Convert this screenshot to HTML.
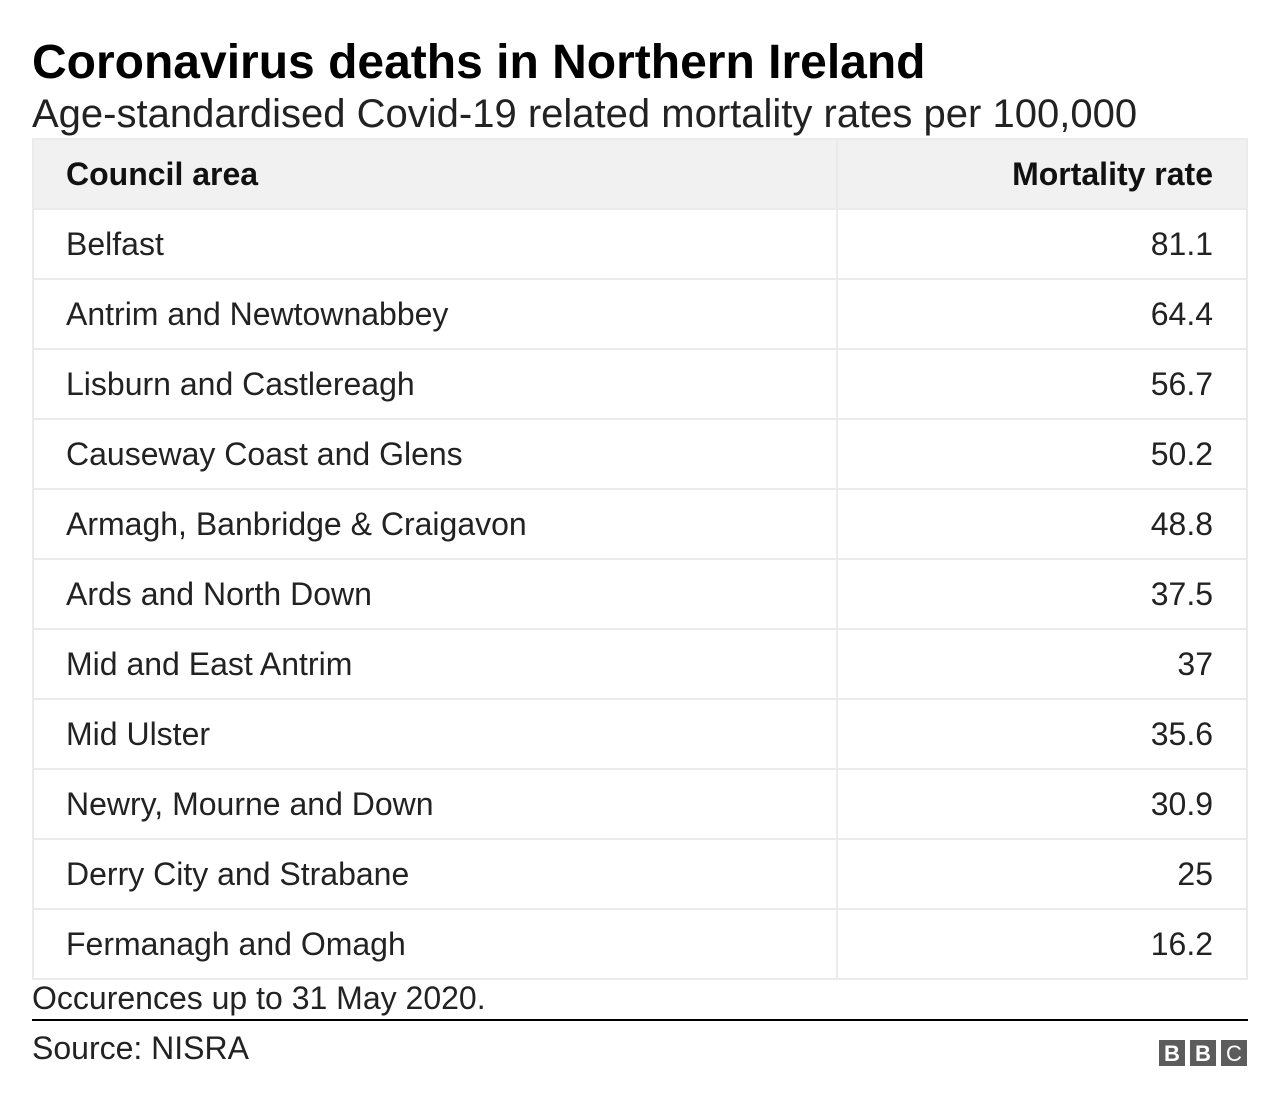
<!DOCTYPE html>
<html><head><meta charset="utf-8"><style>
body{margin:0;width:1280px;height:1108px;background:#fff;font-family:"Liberation Sans",Arial,sans-serif;color:#222;position:relative;overflow:hidden}
.t{position:absolute;left:32px;top:35px;font-size:48px;font-weight:bold;color:#000;white-space:nowrap}
.s{position:absolute;left:32px;top:94px;font-size:40px;color:#222;white-space:nowrap;line-height:1}
table{position:absolute;left:32px;top:138px;width:1216px;border-collapse:collapse}
td,th{border:2px solid #ebebeb;height:68px;padding:0 32px;font-size:32px;font-weight:normal;color:#222;text-align:left}
th{background:#f1f1f1;font-weight:bold;color:#111}
td.r,th.r{text-align:right;padding-right:33px}
.col1{width:738px}
.n{position:absolute;left:32px;top:980px;font-size:32px;color:#222;line-height:36px}
.line{position:absolute;left:32px;top:1019px;width:1216px;height:2px;background:#000}
.src{position:absolute;left:32px;top:1030px;font-size:32px;color:#222;line-height:36px}
.bbc{position:absolute;top:1040px;width:26px;height:26px;background:#5c5c5c;color:#fff;font-weight:bold;font-size:22px;text-align:center;line-height:27px}
</style></head><body>
<div class="t">Coronavirus deaths in Northern Ireland</div>
<div class="s">Age-standardised Covid-19 related mortality rates per 100,000</div>
<table>
<tr><th class="col1">Council area</th><th class="r">Mortality rate</th></tr>
<tr><td>Belfast</td><td class="r">81.1</td></tr>
<tr><td>Antrim and Newtownabbey</td><td class="r">64.4</td></tr>
<tr><td>Lisburn and Castlereagh</td><td class="r">56.7</td></tr>
<tr><td>Causeway Coast and Glens</td><td class="r">50.2</td></tr>
<tr><td>Armagh, Banbridge &amp; Craigavon</td><td class="r">48.8</td></tr>
<tr><td>Ards and North Down</td><td class="r">37.5</td></tr>
<tr><td>Mid and East Antrim</td><td class="r">37</td></tr>
<tr><td>Mid Ulster</td><td class="r">35.6</td></tr>
<tr><td>Newry, Mourne and Down</td><td class="r">30.9</td></tr>
<tr><td>Derry City and Strabane</td><td class="r">25</td></tr>
<tr><td>Fermanagh and Omagh</td><td class="r">16.2</td></tr>
</table>
<div class="n">Occurences up to 31 May 2020.</div>
<div class="line"></div>
<div class="src">Source: NISRA</div>
<div class="bbc" style="left:1159px">B</div>
<div class="bbc" style="left:1190px">B</div>
<div class="bbc" style="left:1221px;font-weight:normal">C</div>
</body></html>
